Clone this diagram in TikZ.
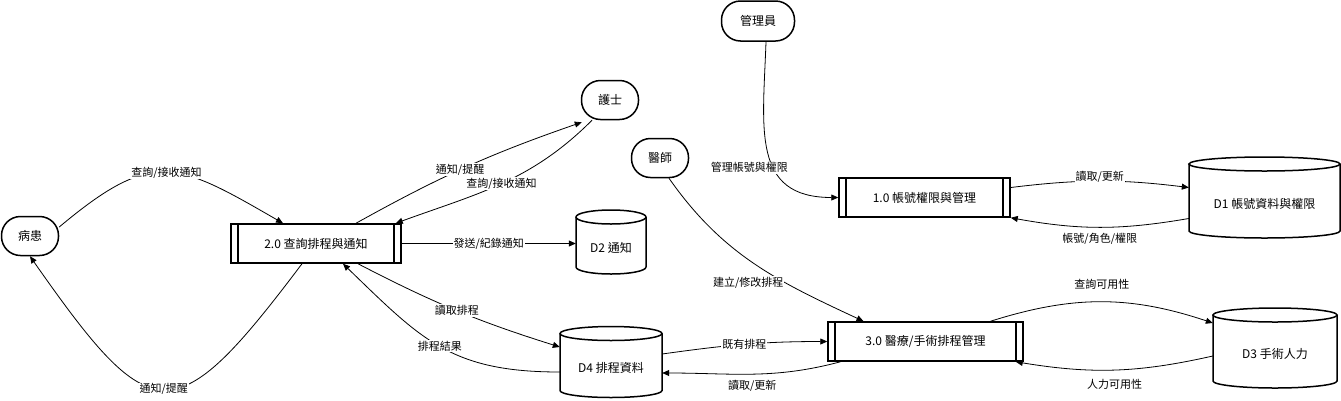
\documentclass[tikz,border=0pt]{standalone}
\usepackage{fontspec}
\setmainfont{Noto Sans CJK TC}
\usetikzlibrary{arrows.meta}

\newcommand{\boxfont}{\fontsize{12}{14}\selectfont}
\newcommand{\edgefont}{\fontsize{11}{13}\selectfont}

% data store: name, x, y, width, height, text
\newcommand{\datastore}[6]{%
  \node[minimum width=#4pt, minimum height=#5pt, inner sep=0pt,
        label={[font=\boxfont, yshift=-6pt]center:#6}] (#1) at (#2,#3) {};
  \draw[line width=1.5pt] (#2-#4/2,#3+#5/2-7) -- (#2-#4/2,#3-#5/2+7)
       arc[start angle=180, end angle=360, x radius=#4/2, y radius=7]
       -- (#2+#4/2,#3+#5/2-7);
  \draw[line width=1.5pt] (#2,#3+#5/2-7) ellipse[x radius=#4/2, y radius=7];
}

\tikzset{
  entity/.style={draw, line width=1.5pt, rounded corners=19pt, minimum width=57pt,
    minimum height=39pt, inner sep=0pt, font=\boxfont},
  procbox/.style={draw, line width=1.5pt, minimum height=39pt, inner sep=0pt, font=\boxfont,
    path picture={
      \draw[line width=1.5pt] ([xshift=7pt]path picture bounding box.north west)
        -- ([xshift=7pt]path picture bounding box.south west);
      \draw[line width=1.5pt] ([xshift=-7pt]path picture bounding box.north east)
        -- ([xshift=-7pt]path picture bounding box.south east);}},
  flow/.style={-{Triangle[length=7pt,width=6pt]}, line width=0.8pt},
  flowlabel/.style={font=\edgefont, fill=white, inner sep=1pt}
}

\begin{document}
\begin{tikzpicture}[x=1pt, y=1pt]
\useasboundingbox (0,0) rectangle (1341,-400);

% external entities
\node[entity] (patient) at (30,-236) {病患};
\node[entity] (nurse) at (610,-100) {護士};
\node[entity] (doctor) at (660,-158) {醫師};
\node[entity, minimum width=73pt, minimum height=40pt] (admin) at (758,-21) {管理員};

% processes
\node[procbox, minimum width=171pt] (p1) at (924.5,-197.5) {1.0 帳號權限與管理};
\node[procbox, minimum width=170pt] (p2) at (316,-243.5) {2.0 查詢排程與通知};
\node[procbox, minimum width=195pt] (p3) at (925.5,-341.5) {3.0 醫療/手術排程管理};

% data stores
\datastore{d1}{1264.5}{-197.5}{151}{81}{D1 帳號資料與權限}
\datastore{d2}{611}{-242}{70}{64}{D2 通知}
\datastore{d3}{1275}{-348}{124}{80}{D3 手術人力}
\datastore{d4}{611}{-362}{102}{71}{D4 排程資料}

% patient
\draw[flow] ([yshift=9pt]patient.east) to[out=40, in=150, looseness=1.4]
    node[flowlabel]{查詢/接收通知} ([xshift=-33pt]p2.north);
\draw[flow] ([xshift=-14pt]p2.south) to[out=233, in=-55, looseness=2]
    node[flowlabel]{通知/提醒} (patient.south);

% nurse
\draw[flow] ([xshift=40pt]p2.north) to[bend left=5]
    node[flowlabel, pos=.47]{通知/提醒} ([shift={(1pt,-2pt)}]nurse.south west);
\draw[flow] ([xshift=-18pt]nurse.south) to[out=225, in=20]
    node[flowlabel]{查詢/接收通知} ([xshift=-6pt]p2.north east);

% 2.0 and stores
\draw[flow] (p2.east) -- node[flowlabel]{發送/紀錄通知} (p2.east -| d2.west);
\draw[flow] ([xshift=42pt]p2.south) to[bend right=5]
    node[flowlabel]{讀取排程} ([yshift=15pt]d4.west);
\draw[flow] ([yshift=-10pt]d4.west) to[out=180, in=-44, looseness=1.15]
    node[flowlabel]{排程結果} ([xshift=27pt]p2.south);

% admin and 1.0
\draw[flow] ([xshift=8pt]admin.south) to[out=-92, in=180, looseness=1.3]
    node[flowlabel, pos=.6, xshift=-25pt]{管理帳號與權限} (p1.west);
\draw[flow] ([yshift=10pt]p1.east) to[bend left=7]
    node[flowlabel, yshift=4pt]{讀取/更新} ([yshift=10pt]d1.west);
\draw[flow] ([yshift=-21pt]d1.west) to[bend left=10]
    node[font=\edgefont, below=2pt]{帳號/角色/權限} (p1.south east);

% doctor and 3.0
\draw[flow] ([xshift=9pt]doctor.south) to[out=-55, in=155]
    node[flowlabel, pos=.66, left=1pt]{建立/修改排程} ([xshift=-62pt]p3.north);
\draw[flow] ([yshift=8pt]d4.east) to[out=8, in=180]
    node[flowlabel]{既有排程} (p3.west);
\draw[flow] ([xshift=-85pt]p3.south) to[out=195, in=0]
    node[font=\edgefont, below=2pt]{讀取/更新} ([yshift=-11pt]d4.east);
\draw[flow] ([xshift=65pt]p3.north) to[bend left=18]
    node[font=\edgefont, above=9pt]{查詢可用性} ([yshift=25pt]d3.west);
\draw[flow] ([yshift=-8pt]d3.west) to[bend left=11]
    node[font=\edgefont, below=6pt]{人力可用性} ([xshift=-8pt]p3.south east);
\end{tikzpicture}
\end{document}
